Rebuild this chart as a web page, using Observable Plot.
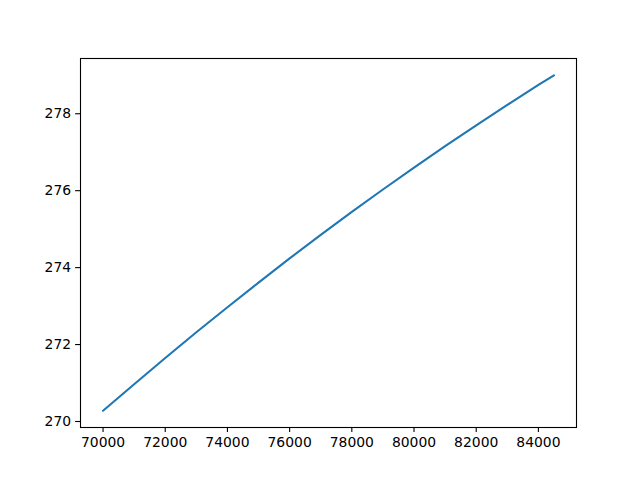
<!DOCTYPE html>
<html>
<head>
<meta charset="utf-8">
<script src="https://cdn.jsdelivr.net/npm/d3@7"></script>
<script src="https://cdn.jsdelivr.net/npm/@observablehq/plot@0.6"></script>
<style>
  html, body { margin: 0; padding: 0; background: #fff; }
  svg { display: block; }
</style>
</head>
<body>
<div id="chart"></div>
<script>
const xValues = [70000, 71000, 72000, 73000, 74000, 75000, 76000, 77000, 78000, 79000, 80000, 81000, 82000, 83000, 84000, 84500];
const yValues = [270.28, 270.97, 271.65, 272.32, 272.97, 273.61, 274.24, 274.85, 275.45, 276.03, 276.60, 277.16, 277.70, 278.23, 278.75, 279.00];
const xTicks = [70000, 72000, 74000, 76000, 78000, 80000, 82000, 84000];
const yTicks = [270, 272, 274, 276, 278];

const data = xValues.map((x, i) => ({x, y: yValues[i]}));

const xMin = d3.min(xValues), xMax = d3.max(xValues);
const yMin = d3.min(yValues), yMax = d3.max(yValues);
const xPad = (xMax - xMin) * 0.05, yPad = (yMax - yMin) * 0.05;

const chart = Plot.plot({
  width: 640,
  height: 480,
  marginLeft: 80,
  marginRight: 64,
  marginTop: 58,
  marginBottom: 53,
  style: {fontFamily: "DejaVu Sans", fontSize: "13.9px", color: "#000", background: "#fff"},
  x: {domain: [xMin - xPad, xMax + xPad], label: null},
  y: {domain: [yMin - yPad, yMax + yPad], label: null},
  marks: [
    Plot.axisX({ticks: xTicks, tickFormat: d => String(d), tickSize: 4.9, tickPadding: 4.5, stroke: "#000", strokeOpacity: 1, strokeWidth: 1.1, fill: "#000", label: null, fontSize: 13.9}),
    Plot.axisY({ticks: yTicks, tickFormat: d => String(d), tickSize: 4.9, tickPadding: 4.5, stroke: "#000", strokeOpacity: 1, strokeWidth: 1.1, fill: "#000", label: null, fontSize: 13.9}),
    Plot.line(data, {x: "x", y: "y", stroke: "#1f77b4", strokeWidth: 2.08}),
    Plot.frame({stroke: "#000", strokeWidth: 1.1})
  ]
});
document.getElementById("chart").appendChild(chart);
</script>
</body>
</html>
